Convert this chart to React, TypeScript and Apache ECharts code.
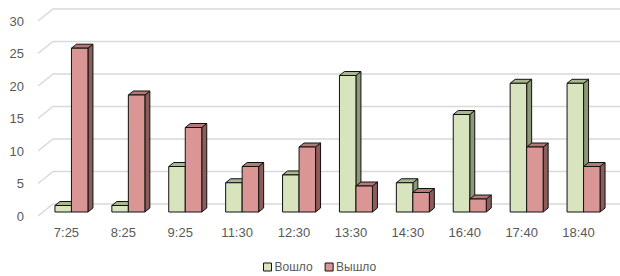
import React, { useEffect, useRef } from "react";
import * as echarts from "echarts";

const categories = ["7:25", "8:25", "9:25", "11:30", "12:30", "13:30", "14:30", "16:40", "17:40", "18:40"];
const voshlo = [1, 1, 7, 4.5, 5.7, 21, 4.5, 15, 19.8, 19.8];
const vyshlo = [25.2, 18, 13, 7, 10, 4, 3, 2, 10, 7];
const yTicks = [0, 5, 10, 15, 20, 25, 30];
const seriesNames = ["Вошло", "Вышло"];

const DEPTH_X = 15;
const DEPTH_Y = 12;
const BAR_DX = 5;
const BAR_DY = 4;

const palettes = [
  { front: "#d7e4bd", side: "#8c9878", top: "#a9b78f" },
  { front: "#d99694", side: "#8c5c5b", top: "#b47876" },
];

export default function App() {
  const ref = useRef<HTMLDivElement>(null);
  useEffect(() => {
    if (!ref.current) return;
    const chart = echarts.init(ref.current, null, { renderer: "svg" });

    const barRender = (s: number) => (params: any, api: any) => {
      const idx = api.value(0);
      const v = api.value(1);
      const base = api.coord([idx, 0]);
      const topP = api.coord([idx, v]);
      const band = api.size([1, 0])[0];
      const w = band * 0.29;
      const cx = base[0] + BAR_DX;
      const xl = s === 0 ? cx - w : cx;
      const xr = xl + w;
      const yb = base[1] - BAR_DY;
      const yt = topP[1] - BAR_DY;
      const pal = palettes[s];
      const stroke = { stroke: "#111", lineWidth: 1 };
      return {
        type: "group",
        children: [
          {
            type: "polygon",
            shape: { points: [[xr, yt], [xr + BAR_DX, yt - BAR_DY], [xr + BAR_DX, yb - BAR_DY], [xr, yb]] },
            style: { fill: pal.side, ...stroke },
          },
          {
            type: "polygon",
            shape: { points: [[xl, yt], [xl + BAR_DX, yt - BAR_DY], [xr + BAR_DX, yt - BAR_DY], [xr, yt]] },
            style: { fill: pal.top, ...stroke },
          },
          {
            type: "rect",
            shape: { x: xl, y: yt, width: w, height: yb - yt },
            style: { fill: pal.front, ...stroke },
          },
        ],
      };
    };

    const gridRender = (params: any, api: any) => {
      const v = api.value(1);
      const p = api.coord([0, v]);
      const x0 = params.coordSys.x;
      const y = p[1];
      return {
        type: "polyline",
        shape: { points: [[x0, y], [x0 + DEPTH_X, y - DEPTH_Y], [620, y - DEPTH_Y]] },
        style: { stroke: "#d9d9d9", lineWidth: 1.5, fill: "none" },
        silent: true,
      };
    };

    chart.setOption({
      animation: false,
      grid: { left: 38, right: 13, top: 21, bottom: 60 },
      legend: {
        left: 263,
        top: 261,
        padding: 0,
        itemWidth: 8,
        itemHeight: 8,
        itemGap: 12,
        icon: "rect",
        textStyle: { fontSize: 12, color: "#595959", fontFamily: "Liberation Sans", padding: [0, 0, 0, -2] },
        data: [
          { name: seriesNames[0], itemStyle: { color: palettes[0].front, borderColor: "#111", borderWidth: 1 } },
          { name: seriesNames[1], itemStyle: { color: palettes[1].front, borderColor: "#111", borderWidth: 1 } },
        ],
      },
      xAxis: {
        type: "category",
        data: categories,
        axisLine: { show: false },
        axisTick: { show: false },
        axisLabel: { fontSize: 13, color: "#595959", fontFamily: "Liberation Sans", margin: 10 },
      },
      yAxis: {
        type: "value",
        min: 0,
        max: 30,
        interval: 5,
        axisLine: { show: false },
        axisTick: { show: false },
        splitLine: { show: false },
        axisLabel: { fontSize: 13, color: "#595959", fontFamily: "Liberation Sans", margin: 14 },
      },
      series: [
        {
          type: "custom",
          name: "grid",
          renderItem: gridRender,
          data: yTicks.map((t) => [0, t]),
          encode: { x: 0, y: 1 },
          silent: true,
          z: 1,
        },
        {
          type: "custom",
          name: seriesNames[0],
          renderItem: barRender(0),
          data: voshlo.map((v, i) => [i, v]),
          encode: { x: 0, y: 1 },
          itemStyle: { color: palettes[0].front },
          z: 2,
        },
        {
          type: "custom",
          name: seriesNames[1],
          renderItem: barRender(1),
          data: vyshlo.map((v, i) => [i, v]),
          encode: { x: 0, y: 1 },
          itemStyle: { color: palettes[1].front },
          z: 3,
        },
      ],
    });
    return () => chart.dispose();
  }, []);
  return <div ref={ref} style={{ position: "absolute", left: 0, top: 0, width: 620, height: 276 }} />;
}
